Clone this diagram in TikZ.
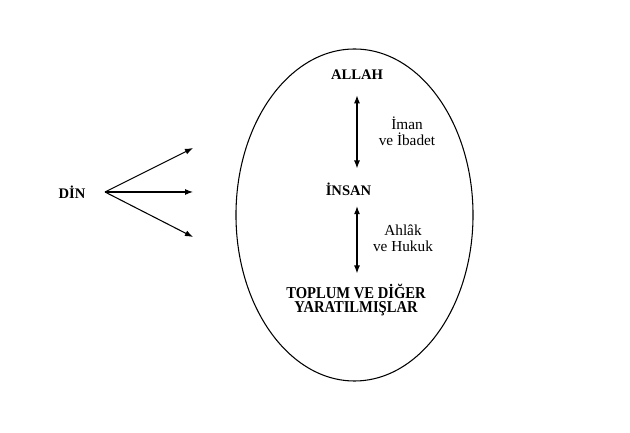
\documentclass[tikz,border=0pt]{standalone}
\usepackage{fontspec}
\setmainfont{Liberation Serif}
\newfontfamily\darfont[FakeStretch=0.88]{Liberation Serif}
\usepackage{tikz}
\usetikzlibrary{arrows.meta}

\tikzset{
  kavram/.style={font=\fontsize{11}{11}\selectfont\bfseries, align=center, inner sep=0pt},
  aciklama/.style={font=\fontsize{11.5}{12}\selectfont, align=center, inner sep=0pt},
  ok/.style={line width=0.8pt, -{Latex[length=6pt,width=4.5pt]}},
  ciftok/.style={line width=0.8pt, {Latex[length=6pt,width=4.5pt]}-{Latex[length=6pt,width=4.5pt]}}
}

\begin{document}
\begin{tikzpicture}[x=0.02646cm,y=-0.02646cm]
	\useasboundingbox (0,0) rectangle (630,433);
	\draw[line width=0.8pt] (354.5,215) ellipse (3.136cm and 4.392cm);

	% sol taraf
	\node[kavram] (din) at (72,192) {DİN};
	\coordinate (catal) at (105,192);
	\foreach \ad/\y in {ust/148,orta/192,alt/237}{
		\coordinate (\ad) at (193,\y);
		\draw[ok] (catal) -- (\ad);
	}

	% elipsin icindekiler
	\node[kavram] (allah) at (357,75) {ALLAH};
	\node[kavram] (insan) at (348.5,189) {İNSAN};
	\node[kavram,font=\darfont\fontsize{12.5}{11.25}\selectfont\bfseries] (toplum) at (356,300) {TOPLUM VE DİĞER\\YARATILMIŞLAR};
	\node[aciklama] (iman) at (407,131) {İman\\ve İbadet};
	\node[aciklama] (ahlak) at (403,238) {Ahlâk\\ve Hukuk};

	\draw[ciftok,shorten <=11.5pt,shorten >=10.5pt] (allah.south) -- (allah.south |- insan.north);
	\draw[ciftok,shorten <=8pt,shorten >=7.5pt] (allah.south |- insan.south) -- (allah.south |- toplum.north);
\end{tikzpicture}
\end{document}
